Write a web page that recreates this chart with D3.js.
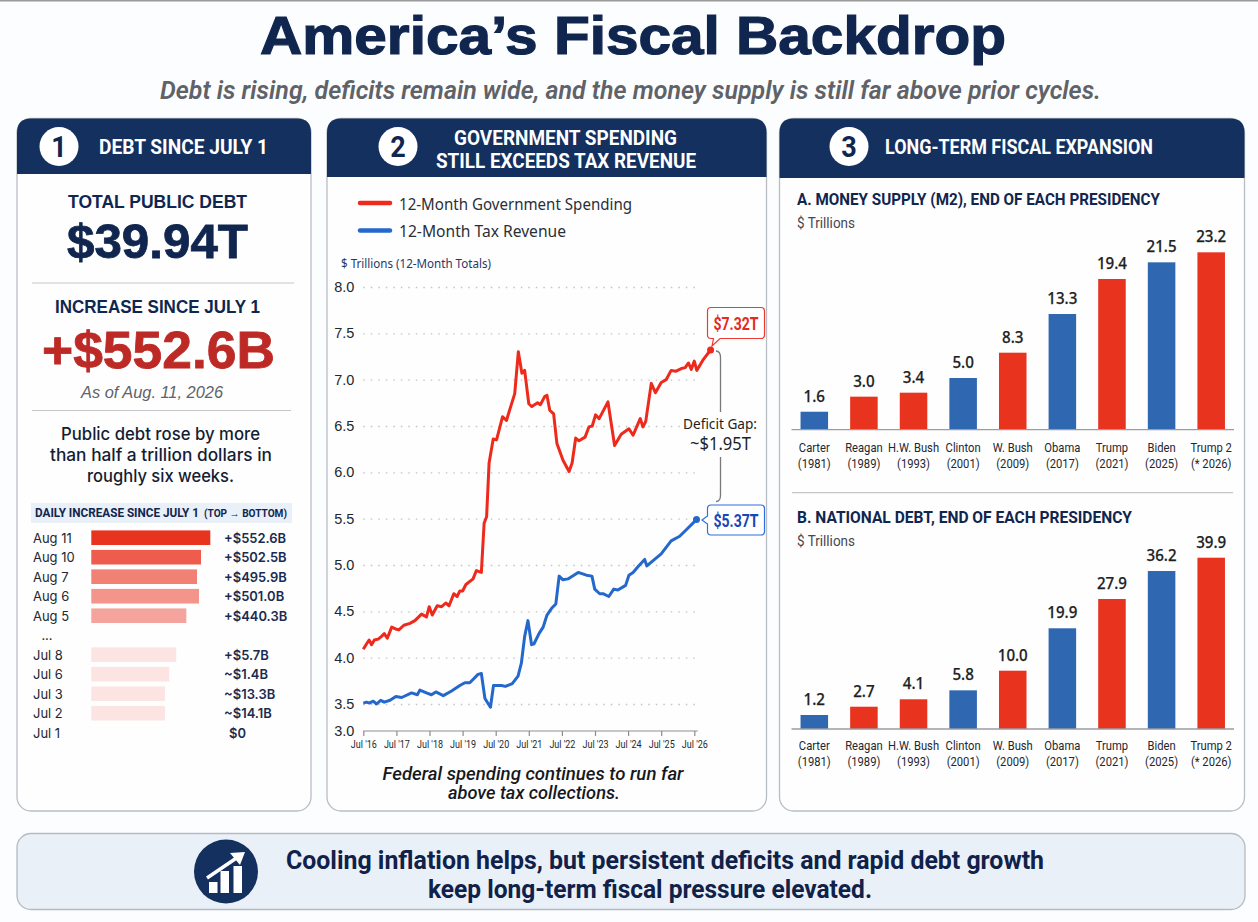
<!DOCTYPE html>
<html>
<head>
<meta charset="utf-8">
<title>America's Fiscal Backdrop</title>
<script src="https://cdn.jsdelivr.net/npm/d3@7"></script>
<style>
  html, body { margin: 0; padding: 0; background: #fcfdfe; }
  svg { display: block; }
  .grid .tick line { stroke: #c0c3c8; stroke-width: 1.3; stroke-dasharray: 1.5 6; }
  .grid .domain { display: none; }
  .grid text { font: 14.5px 'Liberation Sans', sans-serif; fill: #23272e; }
  .xaxis .domain, .xaxis .tick line { stroke: #8a8d92; stroke-width: 1.2; }
  .xaxis text { font: 11px Roboto, sans-serif; fill: #23272e; }
</style>
</head>
<body>
<div class="chart"></div>
<script>
// Panel 1: daily increase rows. barLengths are the lengths as drawn, which
// do not follow the printed labels for the July rows.
const dayLabels = ['Aug 11', 'Aug 10', 'Aug 7', 'Aug 6', 'Aug 5', '...', 'Jul 8', 'Jul 6', 'Jul 3', 'Jul 2', 'Jul 1']
const dayValueLabels = ['+$552.6B', '+$502.5B', '+$495.9B', '+$501.0B', '+$440.3B', '', '+$5.7B', '~$1.4B', '~$13.3B', '~$14.1B', '$0']
const dayBarLengths = [552.6, 509.4, 490.9, 500.2, 441.2, 0, 394.7, 362.2, 342.2, 342.2, 0]
const dayBarOpacity = [1, 0.8, 0.62, 0.52, 0.44, 0, 0.13, 0.13, 0.13, 0.13, 0]

// Panel 2: [months since Jul '16, $ trillions]
const spending = [[0, 4.09], [1.2, 4.15], [2.1, 4.19], [3, 4.14], [4, 4.19], [5.4, 4.20], [6.6, 4.23], [7.6, 4.26], [8.7, 4.21], [10.3, 4.33],
  [11.7, 4.31], [12.9, 4.30], [14.7, 4.35], [16.9, 4.37], [18.7, 4.40], [21.1, 4.47], [22.9, 4.44], [23.9, 4.55], [25, 4.46], [26.8, 4.56],
  [28.4, 4.55], [29.9, 4.59], [31.1, 4.56], [32.8, 4.69], [34, 4.66], [35, 4.72], [36, 4.72], [37.2, 4.79], [39.8, 4.85], [41, 4.94],
  [42.8, 4.92], [43.8, 5.45], [44.7, 5.52], [45.6, 6.10], [47.1, 6.36], [48.3, 6.35], [50.5, 6.60], [51.9, 6.56], [54.9, 6.85], [56.2, 7.30],
  [57.5, 7.07], [58.5, 7.10], [60, 6.74], [61.1, 6.71], [63.2, 6.75], [64.2, 6.73], [65.8, 6.82], [66.6, 6.83], [67.6, 6.67], [69, 6.63],
  [70.2, 6.31], [72.4, 6.13], [74.6, 6.01], [75.7, 6.10], [77, 6.37], [78.2, 6.34], [80.4, 6.38], [81.8, 6.49], [83, 6.50], [84.2, 6.62],
  [85.5, 6.58], [88.7, 6.76], [91.1, 6.29], [93.5, 6.41], [96.3, 6.47], [97.8, 6.40], [100.4, 6.58], [101.4, 6.49], [102.4, 6.55], [104.4, 6.96],
  [105.9, 6.86], [108, 6.97], [109.8, 7.00], [111.6, 7.10], [113.2, 7.09], [115.3, 7.12], [116.7, 7.13], [117.9, 7.18], [118.9, 7.11], [120, 7.20],
  [120.9, 7.10], [123.1, 7.21], [125.9, 7.32]]
const revenue = [[0, 3.51], [1.2, 3.52], [2.2, 3.51], [3.6, 3.53], [4.8, 3.50], [6.3, 3.54], [7.6, 3.52], [9.7, 3.54], [11.8, 3.58], [13.9, 3.57],
  [17.5, 3.62], [19.6, 3.60], [20.5, 3.65], [22.9, 3.62], [24.7, 3.60], [26.3, 3.63], [29, 3.59], [32, 3.64], [35, 3.70], [36.8, 3.73],
  [38.6, 3.73], [41.6, 3.82], [42.8, 3.83], [44.1, 3.56], [46.1, 3.44], [47.2, 3.70], [50.1, 3.70], [51.5, 3.69], [54, 3.72], [56.1, 3.80],
  [57.3, 3.94], [58.5, 4.23], [59.7, 4.40], [61, 4.14], [61.9, 4.15], [63.7, 4.26], [65.2, 4.33], [66.6, 4.46], [68.2, 4.53], [69.8, 4.58],
  [71, 4.88], [72.4, 4.84], [74.2, 4.85], [77.9, 4.92], [80.9, 4.89], [82.9, 4.88], [83.9, 4.74], [85.7, 4.69], [86.9, 4.69], [89, 4.66],
  [90.8, 4.74], [92.3, 4.73], [95.1, 4.78], [96.3, 4.89], [97.8, 4.92], [99.8, 4.99], [102, 5.06], [102.8, 4.99], [105.6, 5.06], [108, 5.12],
  [111.6, 5.26], [114.7, 5.31], [117.1, 5.38], [120.8, 5.49]]
const lineYTicks = [3, 3.5, 4, 4.5, 5, 5.5, 6, 6.5, 7, 7.5, 8]
const lineXTicks = [0, 12, 24, 36, 48, 60, 72, 84, 96, 108, 120]
const lineXLabels = ["Jul '16", "Jul '17", "Jul '18", "Jul '19", "Jul '20", "Jul '21", "Jul '22", "Jul '23", "Jul '24", "Jul '25", "Jul '26"]

// Panel 3: printed values, plus bar lengths as drawn (the bars are not
// proportional to their labels in the picture)
const presidents = ['Carter', 'Reagan', 'H.W. Bush', 'Clinton', 'W. Bush', 'Obama', 'Trump', 'Biden', 'Trump 2']
const presidentYears = ['(1981)', '(1989)', '(1993)', '(2001)', '(2009)', '(2017)', '(2021)', '(2025)', '(* 2026)']
const parties = ['D', 'R', 'R', 'D', 'R', 'D', 'R', 'D', 'R']
const m2Values = [1.6, 3.0, 3.4, 5.0, 8.3, 13.3, 19.4, 21.5, 23.2]
const m2BarLengths = [2.35, 4.32, 4.84, 6.76, 10.07, 15.13, 19.71, 21.89, 23.2]
const debtValues = [1.2, 2.7, 4.1, 5.8, 10.0, 19.9, 27.9, 36.2, 39.9]
const debtBarLengths = [3.26, 5.19, 6.92, 9.01, 13.58, 23.46, 30.28, 36.8, 39.9]

const NAVY = '#10264f', HEADER = '#13305f', RED = '#e8331f', BLUE = '#2f68b1'
const LINE_RED = '#ee2a1c', LINE_BLUE = '#2468cc'
const NARROW = "Roboto, 'Liberation Sans', sans-serif"
const SANS = "'Liberation Sans', sans-serif"
const NOTO = "'Noto Sans', sans-serif"
const INTER = "Inter, sans-serif"

const svg = d3.select('.chart').append('svg').attr('width', 1258).attr('height', 922)

// width stretches the text to the width it has in the picture,
// squeeze narrows it by a factor (no condensed font is installed)
function put(parent, str, x, y, o = {}) {
    const t = parent.append('text')
        .attr('x', x).attr('y', y)
        .attr('text-anchor', o.anchor || 'middle')
        .style('font-family', o.family || SANS)
        .style('font-size', (o.size || 14) + 'px')
        .style('font-weight', o.weight || 400)
        .style('font-style', o.style || 'normal')
        .style('fill', o.fill || '#222')
        .text(str)
    const w = o.width || (o.squeeze ? t.node().getComputedTextLength() * o.squeeze : 0)
    if (w) t.attr('textLength', w).attr('lengthAdjust', 'spacingAndGlyphs')
    if (o.heavy) t.style('stroke', o.fill).style('stroke-width', o.heavy)
    return t
}

function drawFrame() {
    svg.append('rect').attr('width', 1258).attr('height', 922).attr('fill', '#fcfdfe')
    svg.append('rect').attr('width', 1258).attr('height', 1.5).attr('fill', '#9a9a9a')
    put(svg, 'America’s Fiscal Backdrop', 633, 54, { size: 54, weight: 700, fill: NAVY, width: 746, heavy: 1.2 })
    put(svg, 'Debt is rising, deficits remain wide, and the money supply is still far above prior cycles.', 630.5, 99,
        { size: 25, weight: 600, style: 'italic', fill: '#5f6268', family: NARROW, width: 941 })
}

function drawPanel(x0, x1, headerBottom, number, circleX) {
    const y0 = 118.5, y1 = 811, r = 14
    svg.append('rect').attr('x', x0).attr('y', y0).attr('width', x1 - x0).attr('height', y1 - y0).attr('rx', r)
        .attr('fill', '#fefefe').attr('stroke', '#b9bdc4').attr('stroke-width', 1.3)
    svg.append('path')
        .attr('d', `M${x0},${headerBottom}V${y0 + r}Q${x0},${y0} ${x0 + r},${y0}H${x1 - r}Q${x1},${y0} ${x1},${y0 + r}V${headerBottom}Z`)
        .attr('fill', HEADER)
    svg.append('circle').attr('cx', circleX).attr('cy', 146.5).attr('r', 19.5).attr('fill', '#fff')
    put(svg, number, circleX, 157, { size: 30, weight: 700, fill: NAVY, family: NARROW, squeeze: 0.9 })
}

function headerText(str, x, y, width) {
    put(svg, str, x, y, { size: 20, weight: 700, fill: '#fff', family: NARROW, width: width })
}

function drawDebtPanel() {
    drawPanel(17, 311, 174, '1', 59)
    headerText('DEBT SINCE JULY 1', 183.5, 154, 169)

    const g = svg.append('g')
    put(g, 'TOTAL PUBLIC DEBT', 157.5, 208, { size: 18.5, weight: 700, fill: NAVY, width: 179 })
    put(g, '$39.94T', 157.5, 258, { size: 48, weight: 700, fill: NAVY, width: 181, heavy: 0.8 })
    g.append('line').attr('x1', 32).attr('x2', 294).attr('y1', 283).attr('y2', 283).attr('stroke', '#c4c6ca').attr('stroke-width', 1.2)
    put(g, 'INCREASE SINCE JULY 1', 157.5, 313, { size: 18, weight: 700, fill: NAVY, width: 205 })
    put(g, '+$552.6B', 158.5, 368, { size: 52, weight: 700, fill: '#bd2a26', width: 233, heavy: 0.8 })
    put(g, 'As of Aug. 11, 2026', 152, 398, { size: 16, style: 'italic', fill: '#5f6268', width: 142 })
    g.append('line').attr('x1', 32).attr('x2', 291).attr('y1', 410.5).attr('y2', 410.5).attr('stroke', '#c4c6ca').attr('stroke-width', 1.2)
    put(g, 'Public debt rose by more', 160.5, 440, { size: 17, weight: 500, fill: '#141d33', family: INTER, width: 199 })
    put(g, 'than half a trillion dollars in', 161, 461, { size: 17, weight: 500, fill: '#141d33', family: INTER, width: 222 })
    put(g, 'roughly six weeks.', 160.5, 482, { size: 17, weight: 500, fill: '#141d33', family: INTER, width: 147 })

    g.append('rect').attr('x', 31).attr('y', 503).attr('width', 261).attr('height', 20).attr('fill', '#e9f0f8')
    put(g, 'DAILY INCREASE SINCE JULY 1', 35, 517, { anchor: 'start', size: 12, weight: 700, fill: NAVY, family: NARROW, width: 164 })
    put(g, '(TOP → BOTTOM)', 204, 517, { anchor: 'start', size: 10.5, weight: 700, fill: NAVY, family: NARROW, width: 83 })

    const rowY = d3.scalePoint().domain(dayLabels).range([537.7, 732.7])
    const barX = d3.scaleLinear().domain([0, 552.6]).range([91.3, 210.3])
    const rows = g.selectAll('g.day').data(dayLabels.map((d, i) => i)).enter().append('g').attr('class', 'day')
    rows.append('rect')
        .attr('x', barX(0))
        .attr('y', i => rowY(dayLabels[i]) - 7.3)
        .attr('width', i => barX(dayBarLengths[i]) - barX(0))
        .attr('height', 14.6)
        .attr('fill', RED)
        .attr('opacity', i => dayBarOpacity[i])
    rows.each(function (i) {
        const row = d3.select(this), y = rowY(dayLabels[i]) + 4.8
        put(row, dayLabels[i], i === 5 ? 47 : 33, y, { anchor: i === 5 ? 'middle' : 'start', size: 13.5, fill: '#23272e', family: INTER, squeeze: 0.96 })
        if (dayValueLabels[i]) put(row, dayValueLabels[i], i === 10 ? 229 : 224, y, { anchor: 'start', size: 13.5, weight: 600, fill: '#1b2b50', family: INTER, squeeze: 0.96 })
    })
}

function drawLinePanel() {
    drawPanel(327, 766.5, 177, '2', 398)
    headerText('GOVERNMENT SPENDING', 565.5, 145, 223)
    headerText('STILL EXCEEDS TAX REVENUE', 566, 168, 260)

    const g = svg.append('g')
    g.append('line').attr('x1', 360).attr('x2', 390).attr('y1', 203).attr('y2', 203).attr('stroke', LINE_RED).attr('stroke-width', 4.5).attr('stroke-linecap', 'round')
    g.append('line').attr('x1', 360).attr('x2', 390).attr('y1', 230.5).attr('y2', 230.5).attr('stroke', LINE_BLUE).attr('stroke-width', 4.5).attr('stroke-linecap', 'round')
    put(g, '12-Month Government Spending', 399, 210, { anchor: 'start', size: 17, fill: '#2a2f38', family: NOTO, width: 233 })
    put(g, '12-Month Tax Revenue', 399, 237, { anchor: 'start', size: 17, fill: '#2a2f38', family: NOTO, width: 167 })
    put(g, '$ Trillions (12-Month Totals)', 341, 268, { anchor: 'start', size: 12, fill: '#1f3a6a', family: NOTO, width: 150 })

    // the axis is squeezed below 3.5 in the picture
    const x = d3.scaleLinear().domain([0, 120]).range([363.3, 694.3])
    const y = d3.scaleLinear().domain([3, 3.5, 8]).range([731, 704, 287])

    const grid = g.append('g').attr('class', 'grid').attr('transform', `translate(${x(0)},0)`)
        .call(d3.axisLeft(y).tickValues(lineYTicks).tickFormat(d3.format('.1f')).tickSize(-334).tickPadding(9))
    grid.selectAll('.tick').filter(d => d === 3).select('line').remove()

    const xAxis = g.append('g').attr('class', 'xaxis').attr('transform', `translate(0,${y(3)})`)
        .call(d3.axisBottom(x).tickValues(lineXTicks).tickFormat((d, i) => lineXLabels[i]).tickSize(5).tickSizeOuter(0).tickPadding(4))
    xAxis.select('.domain').attr('d', `M${x(0)},0H697.7`)
    xAxis.selectAll('text').attr('textLength', 26).attr('lengthAdjust', 'spacingAndGlyphs')

    const line = d3.line().x(d => x(d[0])).y(d => y(d[1])).curve(d3.curveLinear)
    g.append('path').datum(spending).attr('d', line).attr('fill', 'none').attr('stroke', LINE_RED).attr('stroke-width', 3).attr('stroke-linejoin', 'round')
    g.append('path').datum(revenue).attr('d', line).attr('fill', 'none').attr('stroke', LINE_BLUE).attr('stroke-width', 3).attr('stroke-linejoin', 'round')

    const redEnd = spending[spending.length - 1], blueEnd = revenue[revenue.length - 1]
    g.append('circle').attr('cx', x(redEnd[0])).attr('cy', y(redEnd[1])).attr('r', 3.5).attr('fill', LINE_RED)
    g.append('circle').attr('cx', x(blueEnd[0])).attr('cy', y(blueEnd[1])).attr('r', 3.5).attr('fill', LINE_BLUE)

    // value callouts
    g.append('path')
        .attr('d', 'M711,307.5H761Q764.5,307.5 764.5,311V335Q764.5,338.5 761,338.5H720L712,346L713.5,338.5H711Q707.5,338.5 707.5,335V311Q707.5,307.5 711,307.5Z')
        .attr('fill', '#fff').attr('stroke', '#ee3a30').attr('stroke-width', 1.2)
    put(g, '$7.32T', 736, 329.5, { size: 19, weight: 700, fill: '#e52a20', family: NARROW, width: 45 })
    g.append('path')
        .attr('d', 'M711,505H761Q764.5,505 764.5,508.5V531.5Q764.5,535 761,535H711Q707.5,535 707.5,531.5V524L702,520L707.5,516V508.5Q707.5,505 711,505Z')
        .attr('fill', '#fff').attr('stroke', '#2f6fe0').attr('stroke-width', 1.2)
    put(g, '$5.37T', 736, 526.5, { size: 19, weight: 700, fill: '#1847b8', family: NARROW, width: 45 })

    // gap bracket
    g.append('path').attr('d', 'M716,351Q720.5,351 720.5,358V412').attr('fill', 'none').attr('stroke', '#77797d').attr('stroke-width', 1.3)
    g.append('path').attr('d', 'M720.5,457V495Q720.5,501.5 716,501.5').attr('fill', 'none').attr('stroke', '#77797d').attr('stroke-width', 1.3)
    put(g, 'Deficit Gap:', 720, 429, { size: 15, fill: '#1d1f24', family: NOTO, width: 74 })
    put(g, '~$1.95T', 720.5, 450, { size: 18, fill: '#1d1f24', family: NOTO, width: 61 })

    put(g, 'Federal spending continues to run far', 533, 780, { size: 18, weight: 500, style: 'italic', fill: '#16181d', family: NARROW, width: 301 })
    put(g, 'above tax collections.', 534, 799, { size: 18, weight: 500, style: 'italic', fill: '#16181d', family: NARROW, width: 172 })
}

function barChart(parent, values, lengths, domainMax, pxPerUnit, baseline, labelGap) {
    const g = parent.append('g')
    const x = d3.scaleBand().domain(presidents).range([789.5, 1236]).paddingInner(0.445).paddingOuter(0.2225)
    const y = d3.scaleLinear().domain([0, domainMax]).range([baseline, baseline - domainMax * pxPerUnit])

    g.selectAll('rect.bar').data(presidents).enter().append('rect').attr('class', 'bar')
        .attr('x', d => x(d))
        .attr('y', (d, i) => y(lengths[i]))
        .attr('width', x.bandwidth())
        .attr('height', (d, i) => y(0) - y(lengths[i]))
        .attr('fill', (d, i) => parties[i] === 'R' ? RED : BLUE)

    g.append('line').attr('x1', 791.5).attr('x2', 1234).attr('y1', baseline).attr('y2', baseline).attr('stroke', '#9a9da2').attr('stroke-width', 1.3)

    presidents.forEach((name, i) => {
        const cx = x(name) + x.bandwidth() / 2
        put(g, values[i].toFixed(1), cx, y(lengths[i]) - 10, { size: 17, weight: 500, fill: '#1d1f24', family: NOTO, width: values[i] >= 10 ? 30 : 21.5, heavy: 0.25 })
        put(g, name, cx, baseline + labelGap, { size: 13.5, fill: '#23272e', family: NARROW, squeeze: 0.83 })
        put(g, presidentYears[i], cx, baseline + labelGap + 16.5, { size: 13.5, fill: '#23272e', family: NARROW, squeeze: 0.83 })
    })
}

function drawBarsPanel() {
    drawPanel(779.5, 1244.5, 178, '3', 849)
    headerText('LONG-TERM FISCAL EXPANSION', 1019, 154, 268)

    const g = svg.append('g')
    put(g, 'A. MONEY SUPPLY (M2), END OF EACH PRESIDENCY', 797, 205, { anchor: 'start', size: 16.5, weight: 700, fill: NAVY, family: NARROW, width: 363 })
    put(g, '$ Trillions', 797, 228, { anchor: 'start', size: 14, fill: '#45484e', family: NARROW, width: 58 })
    barChart(g, m2Values, m2BarLengths, 25, 7.646, 429.7, 22)

    g.append('line').attr('x1', 792).attr('x2', 1233).attr('y1', 492.7).attr('y2', 492.7).attr('stroke', '#c4c6ca').attr('stroke-width', 1.2)

    put(g, 'B. NATIONAL DEBT, END OF EACH PRESIDENCY', 797, 522.5, { anchor: 'start', size: 16.5, weight: 700, fill: NAVY, family: NARROW, width: 335 })
    put(g, '$ Trillions', 797, 546, { anchor: 'start', size: 14, fill: '#45484e', family: NARROW, width: 58 })
    barChart(g, debtValues, debtBarLengths, 42, 4.293, 729, 20.5)
}

function drawFooter() {
    const g = svg.append('g')
    g.append('rect').attr('x', 17).attr('y', 833.5).attr('width', 1228).attr('height', 76).attr('rx', 14)
        .attr('fill', '#e9f0f8').attr('stroke', '#b4bac3').attr('stroke-width', 1.3)
    g.append('circle').attr('cx', 226).attr('cy', 871.5).attr('r', 32).attr('fill', HEADER)
    // rising bars icon
    const iconBars = [[209, 882], [220.5, 871], [233.5, 866]]
    g.selectAll('rect.icon').data(iconBars).enter().append('rect').attr('class', 'icon')
        .attr('x', d => d[0]).attr('y', d => d[1]).attr('width', 8.5).attr('height', d => 893 - d[1]).attr('fill', '#fff')
    g.append('path').attr('d', 'M207,878L238,857').attr('stroke', '#fff').attr('stroke-width', 3.5).attr('fill', 'none')
    g.append('path').attr('d', 'M230,853L245,852L240,865Z').attr('fill', '#fff')

    put(g, 'Cooling inflation helps, but persistent deficits and rapid debt growth', 665, 869, { size: 25, weight: 700, fill: '#10214a', family: NARROW, width: 758 })
    put(g, 'keep long-term fiscal pressure elevated.', 650, 897.5, { size: 25, weight: 700, fill: '#10214a', family: NARROW, width: 444 })
}

drawFrame()
drawDebtPanel()
drawLinePanel()
drawBarsPanel()
drawFooter()
</script>
</body>
</html>
